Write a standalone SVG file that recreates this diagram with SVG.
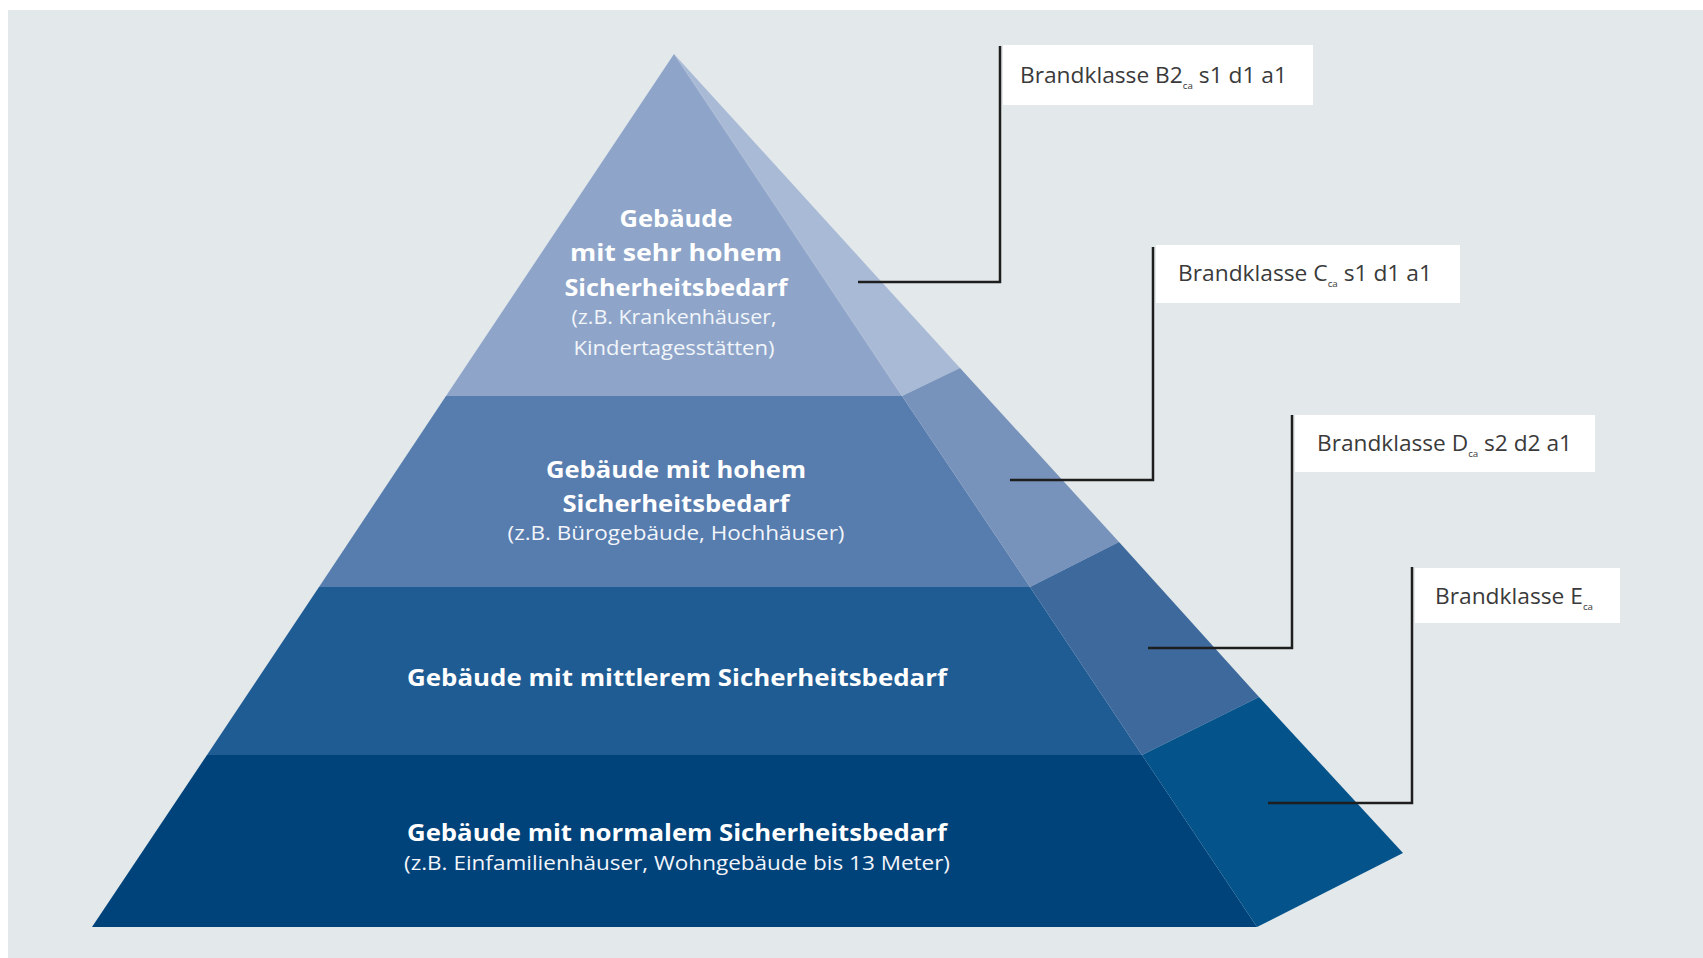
<svg xmlns="http://www.w3.org/2000/svg" width="1703" height="958" viewBox="0 0 1703 958">
  <style>
    .bg { fill: #e3e8ea; }
    .face { stroke: none; }
    .title { font-family: "Open Sans", "Liberation Sans", sans-serif; font-weight: 700; font-size: 24px; fill: #ffffff; text-anchor: middle; }
    .sub { font-family: "Open Sans", "Liberation Sans", sans-serif; font-weight: 400; font-size: 19.5px; fill: #f2f5fa; text-anchor: middle; }
    .box { fill: #ffffff; }
    .lbl { font-family: "Open Sans", "Liberation Sans", sans-serif; font-size: 21px; fill: #3a3a3a; }
    .idx { font-size: 9px; }
    .wire { fill: none; stroke: #1e1e1e; stroke-width: 2.5; }
  </style>

  <!-- page -->
  <rect x="0" y="0" width="1703" height="958" fill="#ffffff"/>
  <rect class="bg" x="8" y="10" width="1695" height="948"/>

  <!-- pyramid tier: very high safety requirement -->
  <g id="tier-very-high">
    <polygon class="face" fill="#8ea5c9" points="674,54 902,396 446,396"/>
    <polygon class="face" fill="#a9bad6" points="674,54 960,368 902,396"/>
    <text class="title" x="676" y="227" textLength="113" lengthAdjust="spacingAndGlyphs">Gebäude</text>
    <text class="title" x="676" y="261" textLength="212" lengthAdjust="spacingAndGlyphs">mit sehr hohem</text>
    <text class="title" x="676" y="296" textLength="223" lengthAdjust="spacingAndGlyphs">Sicherheitsbedarf</text>
    <text class="sub" x="674" y="324" textLength="205" lengthAdjust="spacingAndGlyphs">(z.B. Krankenhäuser,</text>
    <text class="sub" x="674" y="355" textLength="201" lengthAdjust="spacingAndGlyphs">Kindertagesstätten)</text>
  </g>

  <!-- pyramid tier: high safety requirement -->
  <g id="tier-high">
    <polygon class="face" fill="#577cae" points="446,396 902,396 1030,587 319,587"/>
    <polygon class="face" fill="#7893bb" points="902,396 960,368 1119,542 1030,587"/>
    <text class="title" x="676" y="478" textLength="260" lengthAdjust="spacingAndGlyphs">Gebäude mit hohem</text>
    <text class="title" x="676" y="512" textLength="227" lengthAdjust="spacingAndGlyphs">Sicherheitsbedarf</text>
    <text class="sub" x="676" y="540" textLength="337" lengthAdjust="spacingAndGlyphs">(z.B. Bürogebäude, Hochhäuser)</text>
  </g>

  <!-- pyramid tier: medium safety requirement -->
  <g id="tier-medium">
    <polygon class="face" fill="#1f5c94" points="319,587 1030,587 1142,755 207,755"/>
    <polygon class="face" fill="#3d699c" points="1030,587 1119,542 1259,697 1142,755"/>
    <text class="title" x="677" y="686" textLength="540" lengthAdjust="spacingAndGlyphs">Gebäude mit mittlerem Sicherheitsbedarf</text>
  </g>

  <!-- pyramid tier: normal safety requirement -->
  <g id="tier-normal">
    <polygon class="face" fill="#00427a" points="207,755 1142,755 1257,927 92,927"/>
    <polygon class="face" fill="#05538b" points="1142,755 1259,697 1403,853 1257,927"/>
    <text class="title" x="677" y="841" textLength="540" lengthAdjust="spacingAndGlyphs">Gebäude mit normalem Sicherheitsbedarf</text>
    <text class="sub" x="677" y="870" textLength="546" lengthAdjust="spacingAndGlyphs">(z.B. Einfamilienhäuser, Wohngebäude bis 13 Meter)</text>
  </g>

  <!-- leader lines from the tiers to the fire classes -->
  <g id="connectors">
    <path class="wire" d="M858,282 H1000 V46"/>
    <path class="wire" d="M1010,480 H1153 V247"/>
    <path class="wire" d="M1148,648 H1292 V415"/>
    <path class="wire" d="M1268,803 H1412 V567"/>
  </g>

  <!-- fire class labels -->
  <g id="class-b2">
    <rect class="box" x="1003" y="45" width="310" height="60"/>
    <text class="lbl" x="1020" y="83" textLength="267" lengthAdjust="spacingAndGlyphs">Brandklasse B2<tspan class="idx" dy="6">ca</tspan><tspan dy="-6"> s1 d1 a1</tspan></text>
  </g>
  <g id="class-c">
    <rect class="box" x="1156" y="245" width="304" height="58"/>
    <text class="lbl" x="1178" y="281" textLength="254" lengthAdjust="spacingAndGlyphs">Brandklasse C<tspan class="idx" dy="6">ca</tspan><tspan dy="-6"> s1 d1 a1</tspan></text>
  </g>
  <g id="class-d">
    <rect class="box" x="1295" y="415" width="300" height="57"/>
    <text class="lbl" x="1317" y="451" textLength="255" lengthAdjust="spacingAndGlyphs">Brandklasse D<tspan class="idx" dy="6">ca</tspan><tspan dy="-6"> s2 d2 a1</tspan></text>
  </g>
  <g id="class-e">
    <rect class="box" x="1415" y="568" width="205" height="55"/>
    <text class="lbl" x="1435" y="604" textLength="158" lengthAdjust="spacingAndGlyphs">Brandklasse E<tspan class="idx" dy="6">ca</tspan></text>
  </g>
</svg>
